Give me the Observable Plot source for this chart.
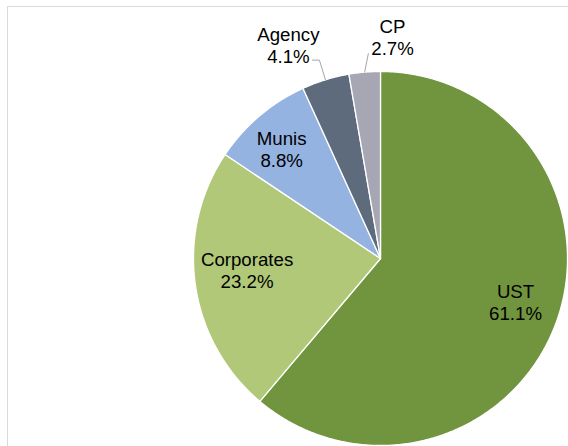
<!DOCTYPE html>
<html><head><meta charset="utf-8">
<script src="https://cdn.jsdelivr.net/npm/d3@7"></script>
<script src="https://cdn.jsdelivr.net/npm/@observablehq/plot@0.6"></script>
<style>
html,body{margin:0;padding:0;background:#fff;}
#wrap{position:relative;width:568px;height:446px;overflow:hidden;}
#border{position:absolute;left:7px;top:6px;width:600px;height:500px;border-left:1px solid #d9d9d9;border-top:1px solid #d9d9d9;}
#chart{position:absolute;left:0;top:0;}
</style></head><body>
<div id="wrap"><div id="border"></div><div id="chart"></div></div>
<script>
// ---- data ----
const categories = ["UST", "Corporates", "Munis", "Agency", "CP"];
const shares = [61.1, 23.2, 8.8, 4.1, 2.7];
const shareLabels = ["61.1%", "23.2%", "8.8%", "4.1%", "2.7%"];
const colors = ["#71953e", "#b0c878", "#95b3e0", "#5e6b7d", "#a6a7b3"];

// ---- layout (label placement, polar: degrees clockwise from top, radius in pie radii) ----
const labelPolar = [[107.7, 0.758], [265.3, 0.716], [318, 0.79], [336.7, 1.245], [3.1, 1.189]];
const R = 187;           // pixels per pie radius
const CX = 380, CY = 258; // pie centre in pixels
const W = 568, H = 446;

const rows = categories.map((name, i) => ({name, share: shares[i], label: shareLabels[i]}));
const arcs = d3.pie().sort(null).value(d => d.share)(rows);

const polar = (deg, r) => {
  const t = deg * Math.PI / 180;
  return {x: Math.sin(t) * r, y: Math.cos(t) * r};
};

// slice outlines from pie angles
const slicePts = arcs.flatMap(a => {
  const n = Math.max(2, Math.ceil((a.endAngle - a.startAngle) / (Math.PI / 360)));
  const pts = [{name: a.data.name, x: 0, y: 0}];
  for (let i = 0; i <= n; i++) {
    const t = a.startAngle + (a.endAngle - a.startAngle) * i / n;
    pts.push({name: a.data.name, x: Math.sin(t), y: Math.cos(t)});
  }
  return pts;
});

const midDeg = a => ((a.startAngle + a.endAngle) / 2) * 180 / Math.PI;

const labelRows = rows.map((d, i) => ({...d, ...polar(labelPolar[i][0], labelPolar[i][1])}));

// leader lines for the two outside labels
const aAg = arcs[3], aCP = arcs[4];
const ag1 = polar(midDeg(aAg), 1.0), ag2 = polar(midDeg(aAg), 1.11);
const cp1 = polar(midDeg(aCP), 1.0), cp2 = polar(356.6, 1.097);
const leaderPts = [
  {name: "Agency", ...ag1}, {name: "Agency", ...ag2}, {name: "Agency", x: ag2.x - 7 / R, y: ag2.y},
  {name: "CP", ...cp1}, {name: "CP", ...cp2}
];

const chart = Plot.plot({
  width: W, height: H, margin: 0,
  x: {domain: [-CX / R, (W - CX) / R], axis: null},
  y: {domain: [-(H - CY) / R, CY / R], axis: null},
  color: {domain: categories, range: colors},
  style: {background: "transparent", overflow: "visible"},
  marks: [
    Plot.line(slicePts, {x: "x", y: "y", z: "name", fill: "name", stroke: "white",
      strokeWidth: 1.3, strokeLinejoin: "round", curve: "linear-closed"}),
    Plot.line(leaderPts, {x: "x", y: "y", z: "name", stroke: "#a6a6a6", strokeWidth: 1}),
    Plot.text(labelRows, {x: "x", y: "y", text: d => d.name + "\n" + d.label,
      fontSize: 18.67, fontFamily: "Liberation Sans, Arial, sans-serif", fill: "#000",
      lineHeight: 1.18, textAnchor: "middle", lineAnchor: "middle"})
  ]
});
document.getElementById("chart").appendChild(chart);
</script>
</body></html>
